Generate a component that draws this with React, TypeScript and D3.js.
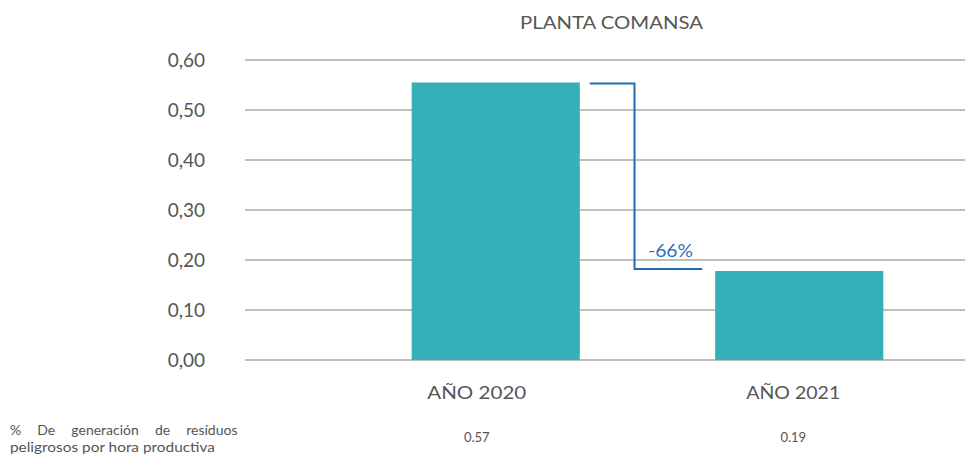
import React from "react";
import * as d3 from "d3";

const categories = ["AÑO 2020", "AÑO 2021"];
const barValues = [0.555, 0.178];
const tableValues = ["0.57", "0.19"];
const yTicks = [0, 0.1, 0.2, 0.3, 0.4, 0.5, 0.6];
const title = "PLANTA COMANSA";
const changeLabel = "-66%";
const rowLabelLines = ["% De generación de resíduos", "peligrosos por hora productiva"];

const W = 965;
const H = 454;
const FONT = "Lato, 'Open Sans', sans-serif";

export default function App() {
  const y = d3.scaleLinear().domain([0, 0.6]).range([360, 60]);
  const x = d3
    .scaleBand<string>()
    .domain(categories)
    .range([344, 951])
    .paddingInner(0.446)
    .paddingOuter(0.223);
  const fmt = (v: number) => v.toFixed(2).replace(".", ",");
  const labelShift = [-19, -6];
  const labelLen = [99, 94];

  const b0x = x(categories[0])! + x.bandwidth();
  const b1x = x(categories[1])!;
  const midX = (b0x + b1x) / 2 - 13;
  const topY = y(barValues[0]);
  const botY = y(barValues[1]) - 2;

  return (
    <svg
      width={W}
      height={H}
      style={{ position: "absolute", left: 0, top: 0, background: "#fff" }}
      fontFamily={FONT}
    >
      <text
        x={520}
        y={29}
        fontSize={17}
        fill="#555"
        textLength={183}
        lengthAdjust="spacingAndGlyphs"
      >
        {title}
      </text>
      {yTicks.map((t) => (
        <g key={t}>
          <line x1={245} x2={965} y1={y(t)} y2={y(t)} stroke="#bfbfbf" strokeWidth={2} />
          <text
            x={205}
            y={y(t) + 7}
            textAnchor="end"
            fontSize={19}
            fill="#555"
          >
            {fmt(t)}
          </text>
        </g>
      ))}
      {categories.map((c, i) => (
        <rect
          key={c}
          x={x(c)}
          y={y(barValues[i])}
          width={x.bandwidth()}
          height={y(0) - y(barValues[i])}
          fill="#35b0b8"
        />
      ))}
      <path
        d={`M${b0x + 10},${topY + 1} H${midX} V${botY} H${b1x - 13}`}
        fill="none"
        stroke="#1f6db3"
        strokeWidth={2}
      />
      <text
        x={648}
        y={257}
        fontSize={17}
        fill="#2a72b8"
        textLength={45}
        lengthAdjust="spacingAndGlyphs"
      >
        {changeLabel}
      </text>
      {categories.map((c, i) => {
        const cx = x(c)! + x.bandwidth() / 2 + labelShift[i];
        return (
          <g key={c + "l"}>
            <text
              x={cx - labelLen[i] / 2}
              y={399}
              fontSize={18}
              fill="#555"
              textLength={labelLen[i]}
              lengthAdjust="spacingAndGlyphs"
            >
              {c}
            </text>
            <text x={cx} y={442} textAnchor="middle" fontSize={13} fill="#555">
              {tableValues[i]}
            </text>
          </g>
        );
      })}
      <text x={10} y={435} fontSize={14} fill="#555" wordSpacing={12.5}>
        {rowLabelLines[0]}
      </text>
      <text
        x={10}
        y={452}
        fontSize={14}
        fill="#555"
        textLength={205}
        lengthAdjust="spacingAndGlyphs"
      >
        {rowLabelLines[1]}
      </text>
    </svg>
  );
}
